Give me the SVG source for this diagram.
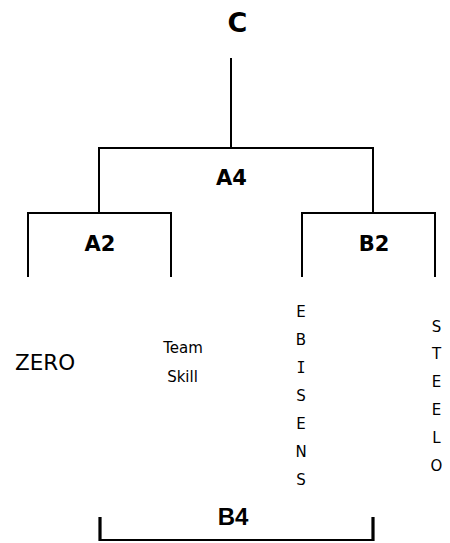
<svg xmlns="http://www.w3.org/2000/svg" width="450" height="543" viewBox="0 0 450 543">
<style>
.ln{stroke:#000;stroke-width:2;fill:none}
.lbl{font-family:"DejaVu Sans",sans-serif;font-weight:bold;font-size:21px;text-anchor:middle;fill:#000}
.team{font-family:"DejaVu Sans",sans-serif;fill:#000}
.vert{font-family:"DejaVu Sans",sans-serif;font-size:15px;text-anchor:middle;fill:#000}
.mono{font-family:"DejaVu Sans Mono",monospace}
</style>
<rect width="450" height="543" fill="#fff"/>
<g id="connectors">
<path class="ln" d="M231 58V148M99 148H373M99 147V213M373 147V213"/>
<path class="ln" d="M28 277V213H171V277"/>
<path class="ln" d="M302 277V213H435V277"/>
<path class="ln" d="M100 540H373"/>
<path d="M100 517V541M373 517V541" stroke="#000" stroke-width="3.2" fill="none"/>
</g>
<g id="C"><text x="237.5" y="31.5" class="lbl" style="font-size:27px">C</text></g>
<g id="A4"><text x="231.5" y="185" class="lbl">A4</text></g>
<g id="A2"><text x="100" y="250.5" class="lbl">A2</text></g>
<g id="B2"><text x="374" y="250.5" class="lbl">B2</text></g>
<g id="B4"><text x="233" y="525" style="font-family:'Liberation Sans',Arial,sans-serif;font-weight:bold;font-size:24px;text-anchor:middle">B4</text></g>
<g id="ZERO"><text x="15" y="370" class="team" style="font-size:21.5px">ZERO</text></g>
<g id="TeamSkill"><text x="183" y="353.3" class="team" style="font-size:15px;text-anchor:middle">Team</text><text x="182.5" y="382" class="team" style="font-size:15px;text-anchor:middle">Skill</text></g>
<g id="EBISENS">
<text class="vert" x="301" y="317">E</text>
<text class="vert" x="301" y="345">B</text>
<text class="vert mono" x="301" y="372.5">I</text>
<text class="vert" x="301" y="401">S</text>
<text class="vert" x="301" y="429">E</text>
<text class="vert" x="301" y="457">N</text>
<text class="vert" x="301" y="484.5">S</text>
</g>
<g id="STEELO">
<text class="vert" x="436.5" y="331.7">S</text>
<text class="vert" x="436.5" y="359.4">T</text>
<text class="vert" x="436.5" y="387">E</text>
<text class="vert" x="436.5" y="415">E</text>
<text class="vert" x="436.5" y="442.7">L</text>
<text class="vert" x="436.5" y="470.5">O</text>
</g>
</svg>
